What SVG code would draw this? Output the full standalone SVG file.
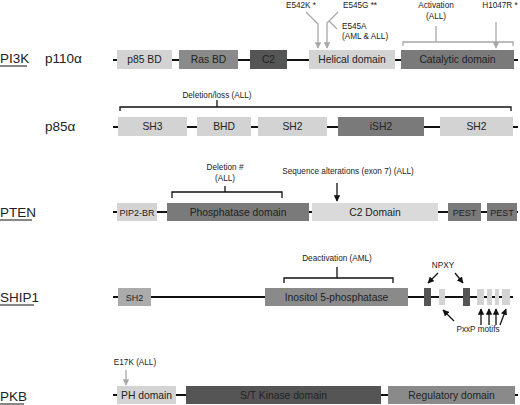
<svg xmlns="http://www.w3.org/2000/svg" width="520" height="405" viewBox="0 0 520 405">
<defs>
<marker id="ag" viewBox="0 0 10 10" refX="9" refY="5" markerWidth="5" markerHeight="5" orient="auto"><path d="M0,0 L10,5 L0,10 z" fill="#a8a8a8"/></marker>
<marker id="ak" viewBox="0 0 10 10" refX="9" refY="5" markerWidth="5" markerHeight="5" orient="auto"><path d="M0,0 L10,5 L0,10 z" fill="#111"/></marker>
<style>
text{font-family:"Liberation Sans","DejaVu Sans",sans-serif;fill:#222}
.lbl{font-size:13.5px}
.bx{font-size:10.3px;text-anchor:middle}
.sm{font-size:9px}
.an{font-size:8.2px;text-anchor:middle}
.bb{stroke:#111;stroke-width:2;fill:none}
.ga{stroke:#a8a8a8;stroke-width:1.3;fill:none}
.gb{stroke:#a8a8a8;stroke-width:1.3;fill:none}
.kb{stroke:#111;stroke-width:1.3;fill:none}
.ul{stroke:#111;stroke-width:1}
.l1{fill:#d3d3d3}.l2{fill:#dadada}.m1{fill:#8a8a8a}.m2{fill:#7a7a7a}.d1{fill:#555}.s1{fill:#ababab}
</style>
</defs>
<rect width="520" height="405" fill="#fff"/>
<g id="labels">
<text class="lbl" x="0" y="63">PI3K</text><line class="ul" x1="0" y1="66" x2="27" y2="66"/>
<text class="lbl" x="45" y="63">p110α</text>
<text class="lbl" x="45" y="131">p85α</text>
<text class="lbl" x="0" y="217">PTEN</text><line class="ul" x1="0" y1="220" x2="32" y2="220"/>
<text class="lbl" x="0" y="302">SHIP1</text><line class="ul" x1="0" y1="305" x2="34" y2="305"/>
<text class="lbl" x="0" y="401">PKB</text><line class="ul" x1="0" y1="404" x2="24" y2="404"/>
</g>
<g id="connectors">
<line class="bb" x1="113" y1="60" x2="518" y2="60"/>
<line class="bb" x1="113" y1="127" x2="518" y2="127"/>
<line class="bb" x1="113" y1="212" x2="518" y2="212"/>
<line class="bb" x1="113" y1="297" x2="513" y2="297"/>
<line class="bb" x1="113" y1="395" x2="518" y2="395"/>
<path class="ga" d="M306,12 L318,24 L318,48" marker-end="url(#ag)"/>
<path class="ga" d="M338,12 L327,23 L327,48" marker-end="url(#ag)"/>
<path class="ga" d="M329,21 L337,29"/>
<path class="gb" d="M403,46 L403,42 L513,42 L513,46 M436,42 L436,26"/>
<path class="ga" d="M496,22 L496,48" marker-end="url(#ag)"/>
<path class="kb" d="M120,111 L120,107 L511,107 L511,111 M217,107 L217,100"/>
<path class="kb" d="M172,198 L172,192 L282,192 L282,198 M225,192 L225,186"/>
<path class="kb" d="M337,183 L337,201" marker-end="url(#ak)"/>
<path class="kb" d="M284,283 L284,278 L393,278 L393,283 M337,278 L337,267"/>
<path class="kb" d="M438,273 L428,283" marker-end="url(#ak)"/>
<path class="kb" d="M455,273 L463,283" marker-end="url(#ak)"/>
<path class="kb" d="M454,321 L443,310" marker-end="url(#ak)"/>
<path class="kb" d="M481,325 L481,309" marker-end="url(#ak)"/>
<path class="kb" d="M489,325 L489,309" marker-end="url(#ak)"/>
<path class="kb" d="M496,325 L496,309" marker-end="url(#ak)"/>
<path class="kb" d="M500,325 L506,309" marker-end="url(#ak)"/>
<path class="ga" d="M126,370 L126,385" marker-end="url(#ag)"/>
</g>
<g id="annotations">
<text class="an" x="301" y="8">E542K *</text>
<text class="an" x="360" y="8">E545G **</text>
<text class="an" x="342" y="29" style="text-anchor:start">E545A</text>
<text class="an" x="342" y="39" style="text-anchor:start">(AML &amp; ALL)</text>
<text class="an" x="436" y="8">Activation</text>
<text class="an" x="436" y="19">(ALL)</text>
<text class="an" x="500" y="8">H1047R *</text>
<text class="an" x="217" y="98">Deletion/loss (ALL)</text>
<text class="an" x="225" y="170">Deletion #</text>
<text class="an" x="225" y="181">(ALL)</text>
<text class="an" x="348" y="174">Sequence alterations (exon 7) (ALL)</text>
<text class="an" x="337" y="261">Deactivation (AML)</text>
<text class="an" x="443" y="268">NPXY</text>
<text class="an" x="478" y="332">PxxP motifs</text>
<text class="an" x="135" y="365">E17K (ALL)</text>
</g>
<g id="p110a">
<g id="p85bd"><rect class="l1" x="117" y="50" width="55" height="19"/><text class="bx" x="144.5" y="63">p85 BD</text></g>
<g id="rasbd"><rect class="m1" x="179" y="50" width="59" height="19"/><text class="bx" x="208.5" y="63">Ras BD</text></g>
<g id="c2a"><rect class="d1" x="250" y="50" width="37" height="19"/><text class="bx" x="268.5" y="63">C2</text></g>
<g id="helical"><rect class="l1" x="309" y="50" width="86" height="19"/><text class="bx" x="352" y="63">Helical domain</text></g>
<g id="catalytic"><rect class="m2" x="401" y="50" width="113" height="19"/><text class="bx" x="457.5" y="63">Catalytic domain</text></g>
</g>
<g id="p85">
<g id="sh3"><rect class="l1" x="118" y="117" width="69" height="19"/><text class="bx" x="152.5" y="130">SH3</text></g>
<g id="bhd"><rect class="l1" x="197" y="117" width="54" height="19"/><text class="bx" x="224" y="130">BHD</text></g>
<g id="sh2a"><rect class="l1" x="258" y="117" width="69" height="19"/><text class="bx" x="292.5" y="130">SH2</text></g>
<g id="ish2"><rect class="m2" x="338" y="117" width="86" height="19"/><text class="bx" x="381" y="130">iSH2</text></g>
<g id="sh2b"><rect class="l1" x="440" y="117" width="73" height="19"/><text class="bx" x="476.5" y="130">SH2</text></g>
</g>
<g id="pten">
<g id="pip2"><rect class="l1" x="117" y="203" width="40" height="18"/><text class="bx sm" x="137" y="215.5">PIP2-BR</text></g>
<g id="phos"><rect class="m2" x="167" y="203" width="142" height="18"/><text class="bx" x="238" y="215.5">Phosphatase domain</text></g>
<g id="c2dom"><rect class="l2" x="312" y="203" width="126" height="18"/><text class="bx" x="375" y="215.5">C2 Domain</text></g>
<g id="pest1"><rect class="m2" x="448" y="203" width="33" height="18"/><text class="bx sm" x="464.5" y="215.5">PEST</text></g>
<g id="pest2"><rect class="m2" x="487" y="203" width="30" height="18"/><text class="bx sm" x="502" y="215.5">PEST</text></g>
</g>
<g id="ship1">
<g id="sh2c"><rect class="s1" x="118" y="288" width="33" height="18"/><text class="bx sm" x="134.5" y="300.5">SH2</text></g>
<g id="inositol"><rect class="m1" x="265" y="288" width="143" height="18"/><text class="bx" x="336.5" y="300.5">Inositol 5-phosphatase</text></g>
<g id="npxy1"><rect class="d1" x="424" y="288" width="7" height="18"/></g>
<g id="pxxp1"><rect class="l1" x="439" y="289" width="6" height="16"/></g>
<g id="npxy2"><rect class="d1" x="463" y="288" width="7" height="18"/></g>
<g id="pxxp2"><rect class="l1" x="477" y="289" width="7" height="16"/></g>
<g id="pxxp3"><rect class="l1" x="487" y="289" width="5" height="16"/></g>
<g id="pxxp4"><rect class="l1" x="495" y="289" width="4" height="16"/></g>
<g id="pxxp5"><rect class="l1" x="502" y="289" width="8" height="16"/></g>
</g>
<g id="pkb">
<g id="ph"><rect class="l1" x="117" y="386" width="59" height="18"/><text class="bx" x="146.5" y="398.5">PH domain</text></g>
<g id="kinase"><rect class="d1" x="186" y="386" width="195" height="18"/><text class="bx" x="283.5" y="398.5">S/T Kinase domain</text></g>
<g id="regulatory"><rect class="m1" x="388" y="386" width="127" height="18"/><text class="bx" x="451.5" y="398.5">Regulatory domain</text></g>
</g>
</svg>
